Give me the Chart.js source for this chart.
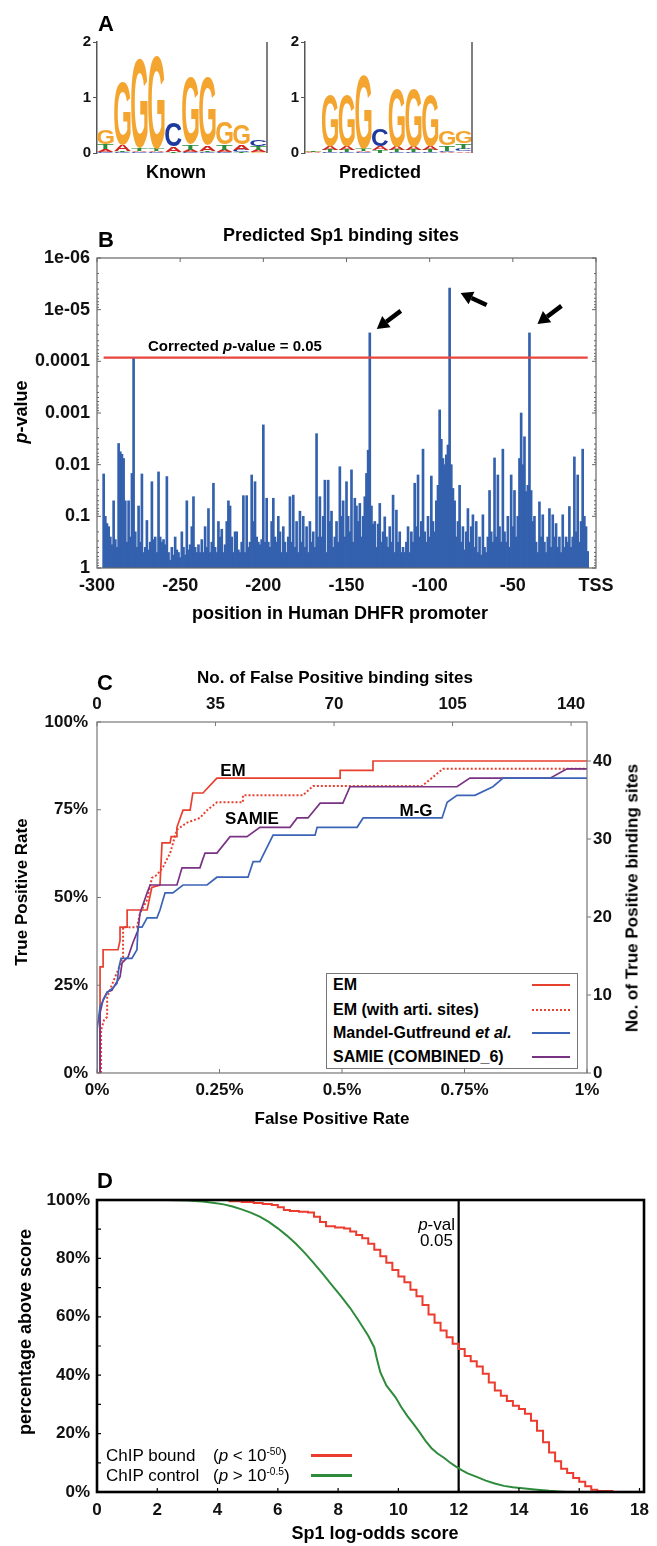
<!DOCTYPE html>
<html><head><meta charset="utf-8"><title>Sp1 binding sites</title>
<script src="https://cdn.jsdelivr.net/npm/chart.js@4.4.1/dist/chart.umd.min.js"></script>
<style>
html,body{margin:0;padding:0;background:#fff;}
body{width:657px;height:1546px;position:relative;overflow:hidden;font-family:Arial,"Liberation Sans",Helvetica,sans-serif;}
canvas{position:absolute;}
.t{position:absolute;white-space:nowrap;color:#000;line-height:1;}
.sw{position:absolute;height:0;}
.box{position:absolute;border:1px solid #777;background:#fff;box-sizing:border-box;}
sup{font-size:60%;vertical-align:0.55em;line-height:0;}
</style></head>
<body>
<canvas id="cA1" width="290" height="175" style="left:0;top:0;width:290px;height:175px"></canvas>
<canvas id="cA2" width="290" height="175" style="left:210px;top:0;width:290px;height:175px"></canvas>
<canvas id="cB" width="657" height="440" style="left:0;top:200px;width:657px;height:440px"></canvas>
<canvas id="cC" width="657" height="490" style="left:0;top:650px;width:657px;height:490px"></canvas>
<canvas id="cD" width="657" height="376" style="left:0;top:1170px;width:657px;height:376px"></canvas>
<script>
// ================= DATA =================
// Panel A: sequence logos (information content in bits, positions 1..10)
const logoPositions = [1,2,3,4,5,6,7,8,9,10];
const knownA = [0.05,0.12,0.03,0.02,0.10,0.05,0.10,0.04,0.10,0.04];
const knownC = [0.02,0.01,0.01,0.01,0.42,0.01,0.01,0.02,0.04,0.12];
const knownG = [0.25,1.13,1.62,1.68,0.00,1.22,1.24,0.40,0.36,0.02];
const knownT = [0.08,0.02,0.04,0.04,0.02,0.10,0.03,0.10,0.02,0.07];
const predA  = [0.01,0.07,0.06,0.02,0.07,0.07,0.06,0.07,0.02,0.03];
const predC  = [0.00,0.01,0.01,0.01,0.30,0.01,0.01,0.01,0.02,0.04];
const predG  = [0.01,0.92,0.92,1.33,0.00,1.04,1.04,0.92,0.25,0.22];
const predT  = [0.02,0.04,0.05,0.04,0.05,0.04,0.05,0.04,0.10,0.10];
const logoYTicks = [0,1,2];

// Panel B: -log10(p-value) of predicted Sp1 sites, positions -296 .. -5
const firstPosition = -296;
const negLog10P = [
1.82,1.0,0.86,0.8,0.6,0.45,1.3,0.55,0.4,2.41,
2.25,2.2,2.12,1.3,0.5,1.3,0.6,1.83,4.06,0.7,
0.4,1.2,0.5,1.82,0.3,0.4,0.92,0.35,0.5,1.67,
0.55,0.6,0.3,1.86,0.6,0.5,0.55,0.45,1.77,0.3,
0.15,0.4,0.25,0.6,0.35,0.3,0.2,0.7,0.4,0.25,
1.3,0.35,0.45,0.8,1.38,0.4,0.3,0.45,0.3,0.55,
0.3,0.8,0.4,1.15,0.3,0.5,1.64,0.4,0.3,0.9,
0.6,0.75,0.3,0.45,0.9,1.3,1.2,0.6,0.3,0.7,
0.7,0.35,0.3,0.5,1.4,0.3,1.4,0.4,0.5,1.8,
0.9,1.67,0.6,0.5,0.45,0.55,2.77,0.5,1.35,0.5,
0.4,0.9,1.35,0.6,0.5,1.0,0.7,0.3,0.8,0.5,
0.3,0.6,1.38,0.5,1.41,0.4,0.9,0.3,1.1,0.5,
1.0,0.4,0.8,0.3,0.9,0.5,0.7,0.4,2.6,0.6,
1.38,0.6,1.0,1.7,0.3,1.7,0.9,1.1,0.4,0.6,
0.9,0.5,1.96,1.0,1.3,0.6,1.67,1.0,0.7,1.9,
0.5,1.35,1.2,0.9,1.25,0.6,1.0,1.38,1.83,2.28,
4.55,1.2,0.85,0.9,0.4,0.85,1.25,0.5,0.7,0.99,
0.6,0.4,0.8,0.5,1.41,0.3,1.12,0.5,0.7,0.3,
0.4,0.3,0.5,0.8,0.3,0.7,0.5,1.64,0.8,1.8,
0.6,0.9,2.3,0.7,0.5,1.0,0.6,1.78,0.9,0.7,
1.3,1.6,3.06,2.49,2.12,2.0,2.19,2.38,5.42,2.0,
1.54,1.3,0.6,0.9,1.6,0.5,0.8,0.35,0.7,1.15,
0.5,0.8,1.03,0.4,0.9,0.3,0.6,0.25,1.03,0.4,
0.3,0.6,1.5,0.7,0.5,2.13,0.6,1.8,0.8,0.5,
2.3,0.7,0.5,1.0,0.4,1.8,0.8,1.5,0.6,1.0,
2.12,3.0,2.0,2.54,1.48,1.6,4.55,1.5,0.9,1.0,
0.5,0.3,1.28,0.6,1.03,0.5,0.3,0.6,1.15,0.4,
1.03,0.6,0.86,0.4,0.6,0.3,1.03,0.4,0.6,0.5,
1.19,0.4,0.6,2.15,0.7,1.8,0.5,0.9,2.3,1.0,
0.8,0.32];
const correctedThreshold = 4.07;          // -log10 p at corrected p-value 0.05
const thresholdSpan = [-296, -5];
const arrowSites = [-136, -88, -40];
const bXTickValues = [-300,-250,-200,-150,-100,-50,0];
const bXTickLabels = ['-300','-250','-200','-150','-100','-50','TSS'];
const bYTickValues = [0,1,2,3,4,5,6];
const bYTickLabels = ['1','0.1','0.01','0.001','0.0001','1e-05','1e-06'];

// Panel C: ROC curves (x = no. of false positive sites, y = no. of true positive sites of 45)
const emFP = [0,0.9,0.9,1.8,1.8,6.2,6.8,6.8,8.9,8.9,14.8,16.2,18.6,19.2,21.6,21.9,23.6,23.6,25.4,27.5,28.3,31.3,35.4,71.8,71.8,81.5,81.5,144.7];
const emTP = [0,0,13.6,13.6,15.8,15.8,17,18.7,18.7,20.9,20.9,23.8,24.1,29.5,29.5,30.3,30.3,31.5,33.7,33.7,35.9,35.9,37.8,37.8,38.8,38.8,40,40];
const emArtiFP = [0,1.2,1.2,2.1,3.0,3.0,4.4,6.2,7.7,7.7,11.8,12.7,14.8,16.2,17.7,19.5,21.6,23.6,26.6,30.4,32.5,35.4,43.1,43.1,60.8,63.8,96,102.2,144.7];
const emArtiTP = [0,0,5.5,6.8,7.2,9.7,11.3,13.2,14.9,18.7,18.7,20.5,22.2,25,25.4,26.4,28.2,31.2,32.1,32.7,33.7,34.7,34.7,35.6,35.6,36.8,36.8,39,39];
const mgFP = [0,0,0.9,3.0,4.7,5.9,6.5,7.1,10.3,11.8,12.1,13.3,14.8,17.7,18.6,20.1,22.4,25.4,32.5,35.4,44.6,46.1,48.1,52,64.4,65,76.8,78.6,101.9,103.4,106.3,111.6,116.9,119.9,144.7];
const mgTP = [0,5.5,8.5,10.3,10.9,11.5,13.6,14.7,14.7,15.8,18.7,18.7,19.9,19.9,20.9,23.1,23.1,24.1,24.1,25.1,25.1,27.1,27.1,30.5,30.5,31.5,31.5,32.7,32.7,34.7,35.6,35.6,36.7,37.8,37.8];
const samieFP = [0,0.9,0.9,1.8,3.0,4.4,5.3,6.8,7.4,9.2,10.6,12.1,12.7,14.8,15.7,23.6,25.1,30.4,31,31.9,35.4,39.3,44.3,48.1,57,59.1,62.3,65.9,72.6,74.7,106.3,110.1,133.8,138.8,144.7];
const samieTP = [0,0,7.7,9.4,10.4,10.6,11.3,12.3,14.1,14.9,16.7,18.3,20.5,23.1,24.1,24.1,26.3,26.3,27.1,28.2,28.2,30.3,30.3,31.5,31.5,32.7,32.7,34.6,34.6,36.7,36.7,37.8,37.8,39,39];
const totalTrueSites = 45;
const maxFalsePositives = 144.7;
const cTopTicks = [0,35,70,105,140];
const cBottomTicks = [0,0.25,0.5,0.75,1];
const cBottomLabels = ['0%','0.25%','0.5%','0.75%','1%'];
const cLeftTicks = [0,11.25,22.5,33.75,45];
const cLeftLabels = ['0%','25%','50%','75%','100%'];
const cRightTicks = [0,10,20,30,40];

// Panel D: percentage of sequences above score
const boundScore = [3.0,4.4,4.8,5.2,5.5,5.8,6.0,6.2,6.4,6.7,7.0,7.2,7.4,7.6,7.9,8.2,8.4,8.6,8.8,9.0,9.2,9.4,9.6,9.8,10.0,10.2,10.4,10.6,10.8,11.0,11.2,11.4,11.6,11.8,12.0,12.2,12.4,12.6,12.8,13.0,13.2,13.4,13.6,13.8,14.0,14.2,14.4,14.6,14.8,15.0,15.2,15.4,15.6,15.8,16.0,16.2,16.4,16.6,17.1];
const boundPct = [100,99.6,99.3,99,98.6,98.3,97.5,96.6,96.2,96,95.7,94.3,92.5,91,90.6,90.2,89.2,88,86.9,85,83,80.7,78.5,76,73.8,71.8,69.3,67,64,60.8,58,55.3,53,50.8,49,46.6,44.8,43,40.5,37.5,34.8,33,31.2,29.5,28.4,26.8,24.4,21,17,13.5,10.5,8,6.5,4.8,3.5,2,0.8,0.3,0.1];
const controlScore = [0,2.3,3.0,3.5,3.9,4.2,4.5,4.8,5.1,5.4,5.7,6.0,6.3,6.6,6.9,7.2,7.5,7.8,8.1,8.4,8.7,9.0,9.2,9.3,9.4,9.6,9.9,10.1,10.3,10.5,10.7,10.9,11.1,11.3,11.5,11.7,11.9,12.1,12.3,12.6,12.9,13.2,13.5,13.8,14.2,14.6,15.0,15.3,15.6];
const controlPct = [100,100,99.8,99.5,99,98.5,97.8,96.8,95.7,94.3,92.5,90.3,87.8,85,81.8,78.3,74.6,70.8,67,63,58.4,53.5,49.5,45,41,36.5,32.5,29,26,23.3,20.5,17.5,15,13.2,11.8,10.2,8.8,7.5,6.4,5.2,3.9,2.9,2.1,1.6,1.2,0.8,0.4,0.2,0];
const pvalCutoffScore = 12;
const dXTicks = [0,2,4,6,8,10,12,14,16,18];
const dYTicks = [0,20,40,60,80,100];

// ================= SETUP =================
const FONT = 'Arial, "Liberation Sans", Helvetica, sans-serif';
Chart.defaults.font.family = FONT;
Chart.defaults.color = '#000';
const base = {responsive:false, animation:false, devicePixelRatio:1, events:[]};
const noPlug = {legend:{display:false}, tooltip:{enabled:false}, title:{display:false}};
const fix = px => s => { if (s.isHorizontal()) s.height = px; else s.width = px; };
const setTicks = vals => s => { s.ticks = vals.map(v => ({value:v})); };
const pts = (xs, ys) => xs.map((x,i) => ({x, y: ys[i]}));
const noGrid = {display:false, drawTicks:false};

const framePlugin = {
  id:'frame',
  afterDraw(chart, args, o){
    if (!o || !o.color) return;
    const {ctx, chartArea:a} = chart;
    ctx.save();
    ctx.strokeStyle = o.color; ctx.lineWidth = o.width || 1;
    const sides = o.sides || ['top','right','bottom','left'];
    if (sides.length === 4) ctx.strokeRect(a.left, a.top, a.right-a.left, a.bottom-a.top);
    else {
      ctx.beginPath();
      if (sides.includes('top')) {ctx.moveTo(a.left,a.top);ctx.lineTo(a.right,a.top);}
      if (sides.includes('bottom')) {ctx.moveTo(a.left,a.bottom);ctx.lineTo(a.right,a.bottom);}
      if (sides.includes('left')) {ctx.moveTo(a.left,a.top);ctx.lineTo(a.left,a.bottom);}
      if (sides.includes('right')) {ctx.moveTo(a.right,a.top);ctx.lineTo(a.right,a.bottom);}
      ctx.stroke();
    }
    (o.ticks || []).forEach(t => {
      const sc = chart.scales[t.scale];
      ctx.lineWidth = t.width || 1;
      ctx.beginPath();
      t.values.forEach(v => {
        const p = sc.getPixelForValue(v);
        if (t.side === 'top') {ctx.moveTo(p,a.top);ctx.lineTo(p,a.top+t.len);}
        else if (t.side === 'bottom') {ctx.moveTo(p,a.bottom);ctx.lineTo(p,a.bottom-t.len);}
        else if (t.side === 'left') {ctx.moveTo(a.left,p);ctx.lineTo(a.left+t.len,p);}
        else {ctx.moveTo(a.right,p);ctx.lineTo(a.right-t.len,p);}
      });
      ctx.stroke();
    });
    ctx.restore();
  }
};

// ---------- Panel A: logos ----------
const LETTER_COLORS = {A:'#D0261E', C:'#1E3A9E', G:'#F4A530', T:'#2B8C3B'};
const logoPlugin = {
  id:'logo',
  afterDatasetsDraw(chart, args, o){
    const {ctx} = chart, xs = chart.scales.x, ys = chart.scales.y;
    ctx.save();
    ctx.font = 'bold 100px ' + FONT; ctx.textAlign = 'left'; ctx.textBaseline = 'alphabetic';
    o.positions.forEach((pos, i) => {
      const stack = ['A','C','G','T'].map(L => ({L, h:o.heights[L][i]})).filter(s => s.h > 0).sort((a,b) => a.h - b.h);
      const x0 = xs.getPixelForValue(pos - 0.5), x1 = xs.getPixelForValue(pos + 0.5);
      let cum = 0;
      stack.forEach(s => {
        const yb = ys.getPixelForValue(cum), yt = ys.getPixelForValue(cum + s.h);
        cum += s.h;
        const hpx = yb - yt; if (hpx < 0.5) return;
        const m = ctx.measureText(s.L);
        const gw = m.actualBoundingBoxLeft + m.actualBoundingBoxRight;
        const gh = m.actualBoundingBoxAscent + m.actualBoundingBoxDescent;
        ctx.save();
        ctx.translate(x0 + 0.3, yb);
        ctx.scale((x1 - x0 - 0.6) / gw, hpx / gh);
        ctx.fillStyle = LETTER_COLORS[s.L];
        ctx.fillText(s.L, m.actualBoundingBoxLeft, -m.actualBoundingBoxDescent);
        ctx.restore();
      });
    });
    ctx.restore();
  }
};
function logoChart(id, yWidth, padRight, heights){
  return new Chart(document.getElementById(id), {
    type:'scatter',
    data:{datasets:[]},
    options:Object.assign({}, base, {
      layout:{padding:{left:0, top:42, right:padRight, bottom:22}},
      plugins:Object.assign({}, noPlug, {
        logo:{positions:logoPositions, heights},
        frame:{color:'#555', width:1.5, sides:['right']}
      }),
      scales:{
        x:{type:'linear', min:0.5, max:10.5, display:false},
        y:{min:0, max:2, afterFit:fix(yWidth), afterBuildTicks:setTicks(logoYTicks),
           border:{display:true, color:'#555', width:1.5},
           grid:{display:true, drawOnChartArea:false, drawTicks:true, tickLength:4, color:'#555'},
           ticks:{font:{size:15, weight:'bold'}, padding:2, color:'#111'}}
      }
    }),
    plugins:[logoPlugin, framePlugin]
  });
}
logoChart('cA1', 97, 23, {A:knownA, C:knownC, G:knownG, T:knownT});
logoChart('cA2', 95, 28, {A:predA, C:predC, G:predG, T:predT});

// ---------- Panel B ----------
const positions = negLog10P.map((v,i) => firstPosition + i);
const minorLog = [];
for (let d = 0; d < 6; d++) for (let k = 2; k <= 9; k++) minorLog.push(d + 1 - Math.log10(k));
const arrowPlugin = {
  id:'arrows',
  afterDatasetsDraw(chart, args, o){
    const {ctx} = chart, xs = chart.scales.x, ys = chart.scales.y;
    ctx.save(); ctx.fillStyle = '#000'; ctx.strokeStyle = '#000'; ctx.lineCap = 'butt';
    o.sites.forEach((pos, i) => {
      const v = negLog10P[pos - firstPosition];
      const bx = xs.getPixelForValue(pos), by = ys.getPixelForValue(v);
      const g = o.geom[i];
      const tx = bx + g.tip[0], ty = by + g.tip[1], fx = bx + g.tail[0], fy = by + g.tail[1];
      const ang = Math.atan2(ty - fy, tx - fx), L = 12, W = 7;
      const hx = tx - L*Math.cos(ang), hy = ty - L*Math.sin(ang);
      ctx.lineWidth = 4.5;
      ctx.beginPath(); ctx.moveTo(fx, fy); ctx.lineTo(hx, hy); ctx.stroke();
      ctx.beginPath(); ctx.moveTo(tx, ty);
      ctx.lineTo(hx + W*Math.sin(ang), hy - W*Math.cos(ang));
      ctx.lineTo(hx - W*Math.sin(ang), hy + W*Math.cos(ang));
      ctx.closePath(); ctx.fill();
    });
    ctx.restore();
  }
};
new Chart(document.getElementById('cB'), {
  type:'bar',
  data:{datasets:[
    {type:'line', data:thresholdSpan.map(x => ({x, y:correctedThreshold})), borderColor:'#E8453C', borderWidth:2.2, pointRadius:0, order:0},
    {type:'bar', data:pts(positions, negLog10P), backgroundColor:'#3461AE', borderWidth:0, barThickness:2, order:1}
  ]},
  options:Object.assign({}, base, {
    layout:{padding:{left:0, top:58, right:61, bottom:0}},
    plugins:Object.assign({}, noPlug, {
      arrows:{sites:arrowSites, geom:[{tip:[7,-4], tail:[31,-22]}, {tip:[11,5], tail:[37,17]}, {tip:[8,-9], tail:[32,-27]}]},
      frame:{color:'#666', width:1.2, ticks:[
        {scale:'x', values:bXTickValues, side:'top', len:4},
        {scale:'y', values:bYTickValues, side:'left', len:4},
        {scale:'y', values:bYTickValues, side:'right', len:4},
        {scale:'y', values:minorLog, side:'left', len:2},
        {scale:'y', values:minorLog, side:'right', len:2}
      ]}
    }),
    scales:{
      x:{type:'linear', min:-300, max:0, offset:false, grid:noGrid, border:{display:false},
         afterFit:fix(72), afterBuildTicks:setTicks(bXTickValues),
         ticks:{callback:(v,i) => bXTickLabels[i], font:{size:18, weight:'bold'}, padding:7, maxRotation:0, autoSkip:false, color:'#111'}},
      y:{type:'linear', min:0, max:6, grid:noGrid, border:{display:false},
         afterFit:fix(97), afterBuildTicks:setTicks(bYTickValues),
         ticks:{callback:(v,i) => bYTickLabels[i], font:{size:18, weight:'bold'}, padding:7, color:'#111'}}
    }
  }),
  plugins:[arrowPlugin, framePlugin]
});

// ---------- Panel C ----------
new Chart(document.getElementById('cC'), {
  type:'line',
  data:{datasets:[
    {label:'Mandel-Gutfreund et al.', data:pts(mgFP, mgTP), borderColor:'#3C64B6', borderWidth:1.7},
    {label:'SAMIE (COMBINED_6)', data:pts(samieFP, samieTP), borderColor:'#7A3285', borderWidth:1.7},
    {label:'EM (with arti. sites)', data:pts(emArtiFP, emArtiTP), borderColor:'#E8402F', borderWidth:2, borderDash:[2,2]},
    {label:'EM', data:pts(emFP, emTP), borderColor:'#E8402F', borderWidth:1.7}
  ].map(d => Object.assign(d, {xAxisID:'xTop', yAxisID:'y', pointRadius:0, tension:0, fill:false}))},
  options:Object.assign({}, base, {
    layout:{padding:{left:0, top:32, right:0, bottom:27}},
    plugins:Object.assign({}, noPlug, {
      frame:{color:'#777', width:1.2, ticks:[
        {scale:'xTop', values:cTopTicks, side:'top', len:4},
        {scale:'x', values:cBottomTicks, side:'bottom', len:4},
        {scale:'y', values:cLeftTicks, side:'left', len:4},
        {scale:'y2', values:cRightTicks, side:'right', len:-4}
      ]}
    }),
    scales:{
      x:{type:'linear', position:'bottom', min:0, max:1, grid:noGrid, border:{display:false},
         afterFit:fix(40), afterBuildTicks:setTicks(cBottomTicks),
         ticks:{callback:(v,i) => cBottomLabels[i], font:{size:17, weight:'bold'}, padding:7, maxRotation:0, autoSkip:false, color:'#111'}},
      xTop:{type:'linear', position:'top', min:0, max:maxFalsePositives, grid:noGrid, border:{display:false},
         afterFit:fix(40), afterBuildTicks:setTicks(cTopTicks),
         ticks:{font:{size:17, weight:'bold'}, padding:7, maxRotation:0, autoSkip:false, color:'#111'}},
      y:{type:'linear', position:'left', min:0, max:totalTrueSites, grid:noGrid, border:{display:false},
         afterFit:fix(97), afterBuildTicks:setTicks(cLeftTicks),
         ticks:{callback:(v,i) => cLeftLabels[i], font:{size:17, weight:'bold'}, padding:9, color:'#111'}},
      y2:{type:'linear', position:'right', min:0, max:totalTrueSites, grid:noGrid, border:{display:false},
         afterFit:fix(70), afterBuildTicks:setTicks(cRightTicks),
         ticks:{font:{size:17, weight:'bold'}, padding:6, color:'#111'}}
    }
  }),
  plugins:[framePlugin]
});

// ---------- Panel D ----------
new Chart(document.getElementById('cD'), {
  type:'line',
  data:{datasets:[
    {data:pts(controlScore, controlPct), borderColor:'#2F8B3C', borderWidth:2},
    {data:pts(boundScore, boundPct), borderColor:'#EC3B2F', borderWidth:2, stepped:true},
    {data:[{x:pvalCutoffScore, y:0}, {x:pvalCutoffScore, y:100}], borderColor:'#000', borderWidth:2.2}
  ].map(d => Object.assign(d, {pointRadius:0, tension:0, fill:false}))},
  options:Object.assign({}, base, {
    layout:{padding:{left:0, top:30, right:7, bottom:0}},
    plugins:Object.assign({}, noPlug, {
      frame:{color:'#000', width:2.6, ticks:[
        {scale:'x', values:dXTicks, side:'bottom', len:4, width:1.2},
        {scale:'y', values:[10,20,30,40,50,60,70,80,90], side:'left', len:4, width:1.2}
      ]}
    }),
    scales:{
      x:{type:'linear', min:0, max:18.15, grid:noGrid, border:{display:false},
         afterFit:fix(54), afterBuildTicks:setTicks(dXTicks),
         ticks:{font:{size:17, weight:'bold'}, padding:8, maxRotation:0, autoSkip:false, color:'#111'}},
      y:{type:'linear', min:0, max:100, grid:noGrid, border:{display:false},
         afterFit:fix(97), afterBuildTicks:setTicks(dYTicks),
         ticks:{callback:v => v + '%', font:{size:17, weight:'bold'}, padding:7, color:'#111'}}
    }
  }),
  plugins:[framePlugin]
});

// ================= TEXT (HTML) =================
function txt(html, x, y, size, bold, anchor){
  const d = document.createElement('div');
  d.className = 't'; d.innerHTML = html;
  d.style.fontSize = size + 'px'; d.style.fontWeight = bold ? 'bold' : 'normal';
  d.style.left = x + 'px'; d.style.top = y + 'px';
  const tr = {c:'translate(-50%,-50%)', l:'translate(0,-50%)', r:'translate(-100%,-50%)', rot:'translate(-50%,-50%) rotate(-90deg)'};
  d.style.transform = tr[anchor || 'c'];
  document.body.appendChild(d);
  return d;
}
function swatch(x, y, w, color, style, thick){
  const d = document.createElement('div');
  d.className = 'sw';
  d.style.left = x + 'px'; d.style.top = (y - thick/2) + 'px'; d.style.width = w + 'px';
  d.style.borderTop = thick + 'px ' + style + ' ' + color;
  document.body.appendChild(d);
}
// A
txt('A', 106, 24, 22, true);
txt('Known', 176, 172, 18, true);
txt('Predicted', 380, 172, 18, true);
// B
txt('B', 106, 240, 22, true);
txt('Predicted Sp1 binding sites', 341, 235, 18, true);
txt('Corrected <i>p</i>-value = 0.05', 148, 345, 15, true, 'l');
txt('position in Human DHFR promoter', 340, 613, 18, true);
txt('<i>p</i>-value', 21, 412, 18, true, 'rot');
// C
txt('C', 105, 683, 22, true);
txt('No. of False Positive binding sites', 335, 677, 17, true);
txt('False Positive Rate', 332, 1118, 17, true);
txt('True Positive Rate', 21, 892, 17, true, 'rot');
txt('No. of True Positive binding sites', 632, 898, 17, true, 'rot');
txt('EM', 233, 770, 17, true);
txt('SAMIE', 252, 818, 17, true);
txt('M-G', 416, 810, 17, true);
const lb = document.createElement('div'); lb.className = 'box';
Object.assign(lb.style, {left:'326px', top:'973px', width:'252px', height:'96px'});
document.body.appendChild(lb);
txt('EM', 333, 985, 16, true, 'l');
txt('EM (with arti. sites)', 333, 1010, 16, true, 'l');
txt('Mandel-Gutfreund <i>et al.</i>', 333, 1033, 16, true, 'l');
txt('SAMIE (COMBINED_6)', 333, 1057, 16, true, 'l');
swatch(532, 985, 38, '#E8402F', 'solid', 2);
swatch(532, 1010, 38, '#E8402F', 'dotted', 2);
swatch(532, 1033, 38, '#3C64B6', 'solid', 2);
swatch(532, 1057, 38, '#7A3285', 'solid', 2);
// D
txt('D', 105, 1181, 22, true);
txt('<i>p</i>-val', 455, 1224, 17, false, 'r');
txt('0.05', 453, 1240, 17, false, 'r');
txt('ChIP bound', 106, 1455, 17, false, 'l');
txt('(<i>p</i> &lt; 10<sup>-50</sup>)', 213, 1455, 17, false, 'l');
txt('ChIP control', 106, 1475, 17, false, 'l');
txt('(<i>p</i> &gt; 10<sup>-0.5</sup>)', 213, 1475, 17, false, 'l');
swatch(311, 1455, 41, '#EC3B2F', 'solid', 3);
swatch(311, 1475, 41, '#2F8B3C', 'solid', 3);
txt('Sp1 log-odds score', 375, 1533, 18, true);
txt('percentage above score', 25, 1332, 18, true, 'rot');
</script>
</body></html>
